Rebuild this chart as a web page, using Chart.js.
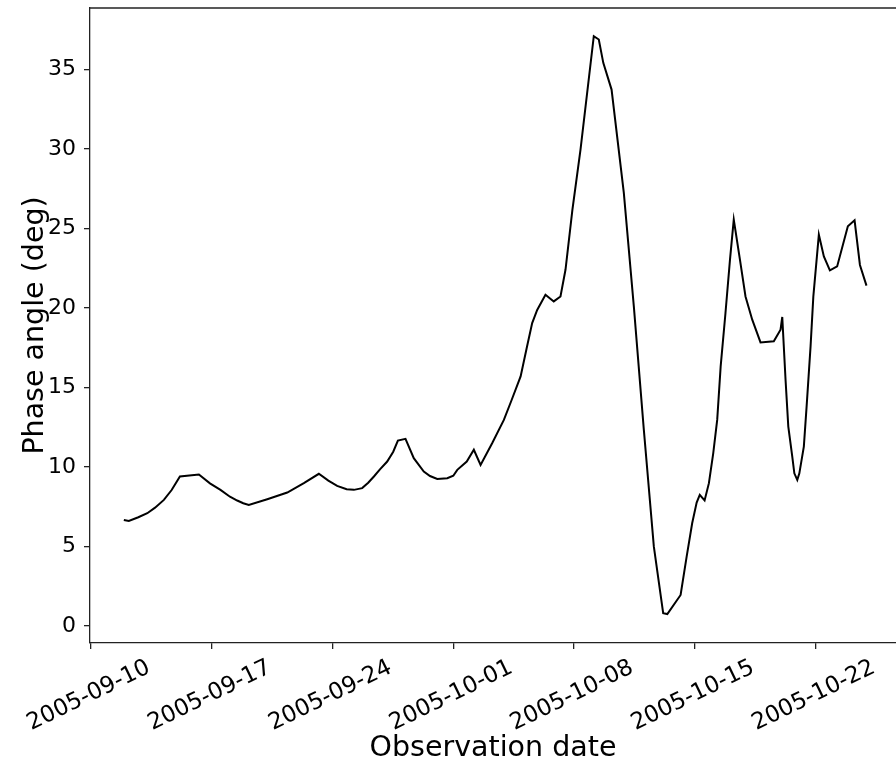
<!DOCTYPE html>
<html>
<head>
<meta charset="utf-8">
<script src="https://cdn.jsdelivr.net/npm/chart.js@4.4.1/dist/chart.umd.min.js"></script>
<style>
  html, body { margin: 0; padding: 0; background: #fff; overflow: hidden; }
  #wrap { width: 896px; height: 768px; }
</style>
</head>
<body>
<div id="wrap"><canvas id="phaseChart" width="896" height="768"></canvas></div>
<script>
// observation times, in days since 2005-09-10 00:00
const obsDays = [
  1.91, 2.2, 2.75, 3.27, 3.72, 4.23, 4.68, 5.16, 6.26, 6.9,
  7.51, 8.06, 8.48, 8.83, 9.15, 10.22, 11.38, 12.34, 13.21, 13.76,
  14.27, 14.82, 15.24, 15.72, 16.07, 16.4, 16.75, 17.17, 17.52, 17.79,
  18.23, 18.71, 19.29, 19.65, 20.07, 20.65, 21.0, 21.23, 21.78, 22.19,
  22.58, 23.25, 23.93, 24.38, 24.9, 25.25, 25.57, 25.86, 26.34, 26.82,
  27.21, 27.5, 27.9, 28.37, 29.14, 29.43, 29.69, 30.17, 30.88, 31.46,
  32.04, 32.62, 33.16, 33.4, 34.17, 34.52, 34.84, 35.1, 35.28, 35.56,
  35.81, 36.06, 36.29, 36.49, 36.77, 37.03, 37.25, 37.61, 37.93, 38.32,
  38.8, 39.57, 39.96, 40.06, 40.25, 40.41, 40.64, 40.76, 40.93, 41.05,
  41.31, 41.47, 41.7, 41.86, 42.18, 42.47, 42.82, 43.24, 43.86, 44.25,
  44.56, 44.94
];
// phase angle in degrees
const phaseAngle = [
  6.67, 6.60, 6.84, 7.09, 7.44, 7.93, 8.55, 9.40, 9.52, 8.97,
  8.56, 8.13, 7.89, 7.72, 7.61, 7.97, 8.39, 8.98, 9.57, 9.14,
  8.81, 8.60, 8.56, 8.67, 9.01, 9.40, 9.85, 10.34, 10.96, 11.66,
  11.77, 10.55, 9.71, 9.43, 9.25, 9.29, 9.45, 9.82, 10.34, 11.08,
  10.13, 11.49, 12.96, 14.21, 15.69, 17.46, 19.05, 19.87, 20.83, 20.41,
  20.72, 22.40, 26.16, 29.96, 37.09, 36.88, 35.41, 33.73, 27.23, 20.10,
  12.33, 4.99, 0.80, 0.75, 1.95, 4.36, 6.46, 7.76, 8.24, 7.89,
  8.98, 10.86, 12.96, 16.31, 19.68, 23.02, 25.55, 23.02, 20.72, 19.26,
  17.83, 17.90, 18.63, 19.43, 15.48, 12.54, 10.65, 9.60, 9.19, 9.60,
  11.28, 13.79, 17.58, 20.71, 24.61, 23.24, 22.36, 22.61, 25.13, 25.51,
  22.70, 21.40
];
const tickDays = [0, 7, 14, 21, 28, 35, 42];
const tickLabels = ['2005-09-10', '2005-09-17', '2005-09-24', '2005-10-01', '2005-10-08', '2005-10-15', '2005-10-22'];
const yTicks = [0, 5, 10, 15, 20, 25, 30, 35];

const points = obsDays.map((d, i) => ({ x: d, y: phaseAngle[i] }));
const axisColor = '#222';
const tickFont = { family: 'DejaVu Sans', size: 22 };
const xTickFont = { family: 'DejaVu Sans', size: 23 };
const titleFont = { family: 'DejaVu Sans', size: 28.5 };

// matplotlib style frame: top spine
const frameTop = {
  id: 'frameTop',
  afterDraw(chart) {
    const { ctx, chartArea } = chart;
    ctx.save();
    ctx.strokeStyle = axisColor;
    ctx.lineWidth = 1.3;
    ctx.beginPath();
    ctx.moveTo(chartArea.left, chartArea.top);
    ctx.lineTo(chartArea.right, chartArea.top);
    ctx.stroke();
    ctx.restore();
  }
};

const ctx = document.getElementById('phaseChart').getContext('2d');
new Chart(ctx, {
  type: 'line',
  data: {
    datasets: [{
      data: points,
      borderColor: '#000',
      borderWidth: 2,
      pointRadius: 0,
      tension: 0,
      fill: false
    }]
  },
  options: {
    responsive: false,
    animation: false,
    layout: { padding: { left: 14, top: 8, right: 0, bottom: 0 } },
    plugins: {
      legend: { display: false },
      tooltip: { enabled: false }
    },
    scales: {
      x: {
        type: 'linear',
        min: -0.05,
        max: 46.65,
        afterBuildTicks: (s) => { s.ticks = tickDays.map(v => ({ value: v })); },
        afterFit: (s) => { s.paddingLeft = 0; s.paddingRight = 0; s.height = 125; },
        ticks: {
          autoSkip: false,
          minRotation: 26,
          maxRotation: 26,
          labelOffset: 58,
          padding: 5,
          color: '#000',
          font: xTickFont,
          callback: (v) => tickLabels[tickDays.indexOf(v)]
        },
        grid: { display: true, drawOnChartArea: false, drawTicks: true, tickLength: 6, color: axisColor, lineWidth: 1.3 },
        border: { display: true, color: axisColor, width: 1.3 },
        title: { display: true, text: 'Observation date', color: '#000', font: titleFont, padding: { top: 4, bottom: 2 } }
      },
      y: {
        min: -1.07,
        max: 38.86,
        afterBuildTicks: (s) => { s.ticks = yTicks.map(v => ({ value: v })); },
        afterFit: (s) => { s.width = 76; s.paddingTop = 0; s.paddingBottom = 0; },
        ticks: { padding: 8, color: '#000', font: tickFont },
        grid: { display: true, drawOnChartArea: false, drawTicks: true, tickLength: 6, color: axisColor, lineWidth: 1.3 },
        border: { display: true, color: axisColor, width: 1.3 },
        title: { display: true, text: 'Phase angle (deg)', color: '#000', font: titleFont, padding: { top: 4, bottom: 4 } }
      }
    }
  },
  plugins: [frameTop]
});
</script>
</body>
</html>
